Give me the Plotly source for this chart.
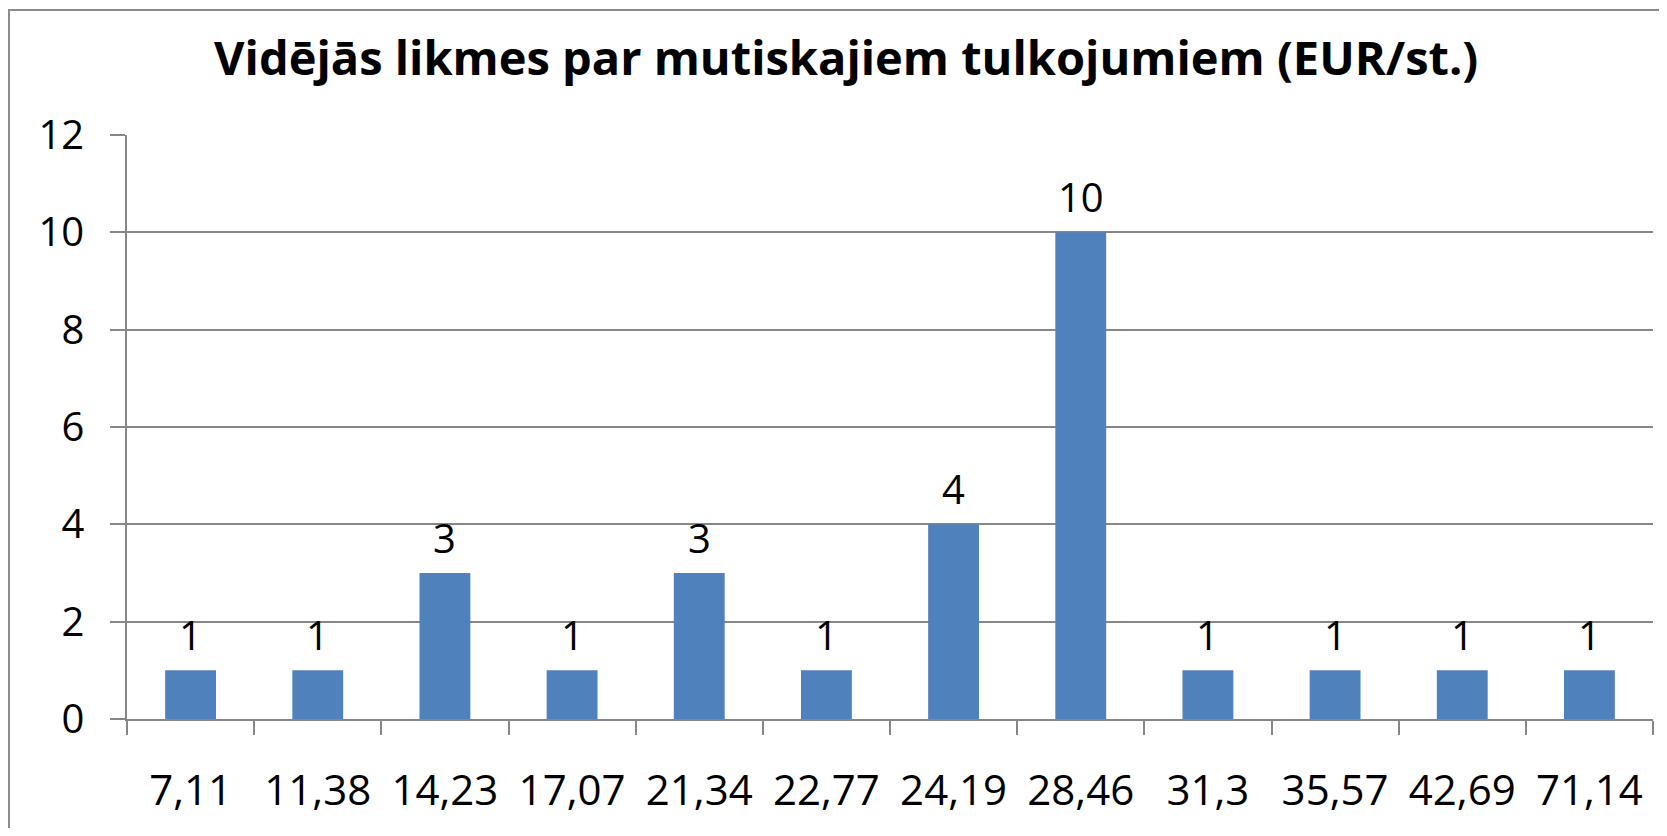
import plotly.graph_objects as go

categories = ["7,11", "11,38", "14,23", "17,07", "21,34", "22,77", "24,19", "28,46", "31,3", "35,57", "42,69", "71,14"]
counts = [1, 1, 3, 1, 3, 1, 4, 10, 1, 1, 1, 1]
y_ticks = [0, 2, 4, 6, 8, 10, 12]
title_text = "Vidējās likmes par mutiskajiem tulkojumiem (EUR/st.)"

# page body has an 8px margin, so figure coordinates = page coordinates - 8
OFF = 8
W, H = 1667 - 2 * OFF, 836 - 2 * OFF
ML = 127 - OFF
MR = W - (1653 - OFF)
MT = 135 - OFF
MB = H - (719 - OFF)
PW, PH = W - ML - MR, H - MT - MB

FONT = "Open Sans"
GRID = "#878787"

fig = go.Figure()
fig.add_trace(go.Bar(
    x=categories, y=counts,
    marker=dict(color="#4F81BD", line=dict(width=0)),
    hoverinfo="x+y",
))

annotations = []
for c, v in zip(categories, counts):
    annotations.append(dict(
        x=c, y=v, xref="x", yref="y", text=str(v), showarrow=False,
        yanchor="bottom", yshift=6,
        font=dict(family=FONT, size=40, color="black"),
    ))
annotations.append(dict(
    x=(846 - OFF - ML) / PW, y=1 + (MT - (57 - OFF)) / PH, xref="paper", yref="paper",
    text="<b>" + title_text + "</b>", showarrow=False,
    xanchor="center", yanchor="middle",
    font=dict(family=FONT, size=47, color="black"),
))

fig.update_layout(
    width=W, height=H,
    margin=dict(l=ML, r=MR, t=MT, b=MB, pad=0, autoexpand=False),
    paper_bgcolor="white", plot_bgcolor="white",
    bargap=0.6,
    showlegend=False,
    annotations=annotations,
    shapes=[dict(
        type="rect", xref="paper", yref="paper",
        x0=(1 - ML) / PW, x1=(W + 20 - ML) / PW,
        y0=-(H + 20 - (MT + PH)) / PH, y1=1 + (MT - 2) / PH,
        line=dict(color="#8c8c8c", width=2), fillcolor="rgba(0,0,0,0)",
        layer="below",
    )],
    xaxis=dict(
        type="category", showline=True, linecolor=GRID, linewidth=1.5,
        ticks="outside", ticklen=14, tickcolor=GRID, tickwidth=1.5,
        tickson="boundaries", showgrid=False,
        tickfont=dict(family=FONT, size=42, color="black"),
        ticklabelstandoff=34,
    ),
    yaxis=dict(
        range=[0, 12], tickvals=y_ticks, showline=True, linecolor=GRID, linewidth=1.5,
        ticks="outside", ticklen=15, tickcolor=GRID, tickwidth=1.5,
        showgrid=True, gridcolor=GRID, gridwidth=1.5, zeroline=False,
        tickfont=dict(family=FONT, size=40, color="black"),
        ticklabelstandoff=18,
    ),
)

fig.write_html("out.html")
